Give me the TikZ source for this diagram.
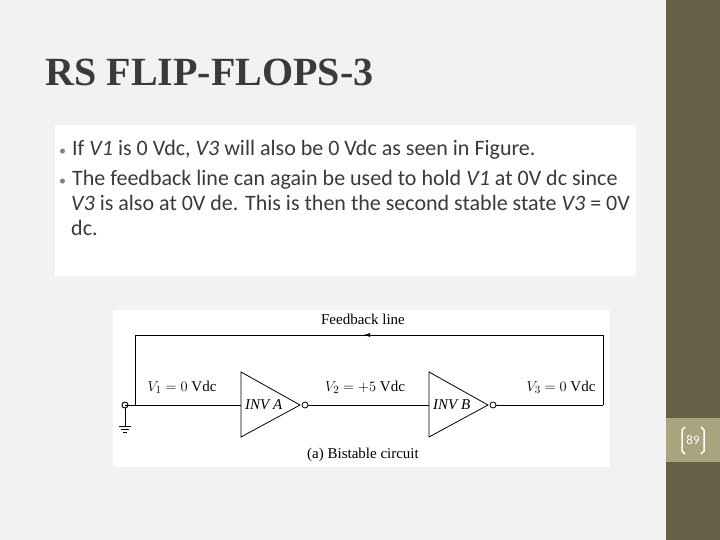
\documentclass[tikz,border=0pt]{standalone}
\usepackage{fontspec}
\setmainfont{Carlito}
\newfontfamily\tim{Liberation Serif}
\usetikzlibrary{arrows.meta}
\definecolor{side}{HTML}{675F47}
\definecolor{pgbox}{HTML}{A8A47E}
\definecolor{ttl}{HTML}{3A3A3A}
\definecolor{bg}{HTML}{F2F2F2}
\begin{document}
\begin{tikzpicture}[x=1pt,y=-1pt,
  wire/.style={line width=1pt},
  ckt/.style={font=\tim\fontsize{15}{17}\selectfont, inner sep=0pt},
  body/.style={anchor=base west, text=ttl, font=\fontsize{22}{25}\selectfont, inner sep=0pt},
  bul/.style={anchor=base west, text=gray, font=\fontsize{14}{14}\selectfont, inner sep=0pt},
  inv/.style={draw, line width=0.8pt, fill=white}]
\useasboundingbox (0,0) rectangle (720,540);
\fill[bg] (0,0) rectangle (720,540);
\fill[side] (666,0) rectangle (720,540);
\fill[pgbox] (666,418) rectangle (720,462);
\node[text=white, font=\fontsize{13}{15}\selectfont] (pgn) at (693,440) {89};
\draw[white, line width=1.5pt] (685,427) -- (682,430) -- (682,451) -- (685,454);
\draw[white, line width=1.5pt] (701,427) -- (704,430) -- (704,451) -- (701,454);
\node[anchor=west, text=ttl, font=\tim\bfseries\fontsize{40}{44}\selectfont] (title) at (42,72) {RS FLIP-FLOPS-3};
\fill[white] (55,125) rectangle (636,276);
\node[bul] (b1) at (59,156) {\textbullet};
\node[body] (t1) at (72,156) {If \textit{V1} is 0 Vdc, \textit{V3} will also be 0 Vdc as seen in Figure.};
\node[bul] (b2) at (59,186) {\textbullet};
\node[body] (t2) at (72,186) {The feedback line can again be used to hold \textit{V1} at 0V dc since};
\node[body] (t3) at (71,211) {\textit{V3} is also at 0V de. This is then the second stable state \textit{V3} = 0V};
\node[body] (t4) at (71,236) {dc.};
\fill[white] (113,310) rectangle (610,467);
% circuit
\coordinate (in) at (125,405);
\coordinate (fl) at (135,405);
\coordinate (ftl) at (135,335);
\coordinate (ftr) at (603,335);
\coordinate (fr) at (603,405);
\coordinate (am) at (363,335);
\node[inv, draw, circle, inner sep=0pt, minimum size=6pt] (bA) at (305,405) {};
\node[inv, draw, circle, inner sep=0pt, minimum size=6pt] (bB) at (493,405) {};
\coordinate (aL) at (241,405);
\coordinate (bL) at (429,405);
\draw[wire] (fl) -- (aL);
\draw[wire] (bA) -- (bL);
\draw[wire] (bB) -- (fr);
\draw[wire] (fl) -- (ftl) -- (ftr) -- (fr);
\draw[wire, -{Latex[length=7pt,width=4pt]}] (ftr) -- (am);
\draw[inv] (241,372) -- (300,405) -- (241,437) -- cycle;
\draw[inv] (429,372) -- (488,405) -- (429,437) -- cycle;
\node[draw, circle, fill=white, line width=0.9pt, inner sep=0pt, minimum size=6pt] (inc) at (in) {};
\draw[wire] (in) -- (fl);
\coordinate (g) at (125,426);
\draw[line width=0.8pt] (inc) -- (g);
\draw[line width=0.8pt] (119,426) -- (131,426) (121,429) -- (129,429) (123,432) -- (127,432);
\node[ckt, anchor=west] (l1) at (245,405) {\textit{INV A}};
\node[ckt, anchor=west] (l2) at (433,405) {\textit{INV B}};
\node[ckt] (v1) at (182,387) {$V_1 = 0$ Vdc};
\node[ckt] (v2) at (365,387) {$V_2 = {+}5$ Vdc};
\node[ckt] (v3) at (561,387) {$V_3 = 0$ Vdc};
\node[ckt] (fb) at (363,319) {Feedback line};
\node[ckt] (cap) at (363,455) {(a) Bistable circuit};
\end{tikzpicture}
\end{document}
